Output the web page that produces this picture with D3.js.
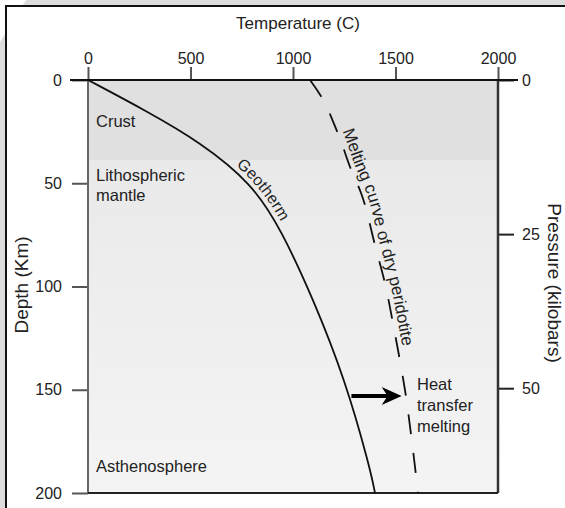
<!DOCTYPE html>
<html>
<head>
<meta charset="utf-8">
<script src="https://cdn.jsdelivr.net/npm/d3@7"></script>
<style>
  body { margin: 0; background: #dcdcdc; overflow: hidden; }
  svg { display: block; font-family: "Liberation Sans", Arial, sans-serif; }
</style>
</head>
<body>
<div id="chart"></div>
<script>
// Tick values
const tempTicks = [0, 500, 1000, 1500, 2000];
const depthTicks = [0, 50, 100, 150, 200];
const pressureTicks = [0, 25, 50];

// Geotherm (depth km -> temperature C)
const geoDepth = [0, 15, 30, 50, 73, 106, 145, 188, 200];
const geoTemp = [0, 285, 546, 800, 945, 1098, 1254, 1376, 1400];

// Melting curve of dry peridotite
const meltDepth = [0, 10, 20, 30, 42, 57, 80, 99, 119, 150, 175, 200];
const meltTemp = [1083, 1150, 1195, 1235, 1278, 1340, 1400, 1450, 1490, 1546, 1580, 1610];

// Layers
const zoneNames = ["Crust", "Lithospheric mantle", "Asthenosphere"];
const zoneTop = [0, 39, 39];

// Heat transfer arrow
const arrowDepth = 153;
const arrowFrom = 1285;
const arrowTo = 1530;

const W = 565, H = 508;

let svg = d3.select("#chart").append("svg")
    .attr("width", W)
    .attr("height", H);

// Outer background and white panel
svg.append("polygon")
    .attr("points", "0,0 26,0 0,42")
    .attr("fill", "#fff");
svg.append("rect")
    .attr("x", 6).attr("y", 6)
    .attr("width", 620).attr("height", 620)
    .attr("fill", "#fff")
    .attr("stroke", "#111")
    .attr("stroke-width", 2);

// Scales
let x = d3.scaleLinear().domain([0, 2000]).range([88, 498]);
let y = d3.scaleLinear().domain([0, 200]).range([80, 493]);
let p = d3.scaleLinear().domain([0, 67]).range([80, 493]);

// Gradient for the mantle part
let defs = svg.append("defs");
let grad = defs.append("linearGradient")
    .attr("id", "mantle")
    .attr("x1", 0).attr("y1", 0).attr("x2", 0).attr("y2", 1);
grad.append("stop").attr("offset", "0%").attr("stop-color", "#e9e9e9");
grad.append("stop").attr("offset", "100%").attr("stop-color", "#f4f4f4");

// Layer fills
svg.append("rect")
    .attr("x", x(0)).attr("y", y(zoneTop[1]))
    .attr("width", x(2000) - x(0)).attr("height", y(200) - y(zoneTop[1]))
    .attr("fill", "url(#mantle)");
svg.append("rect")
    .attr("x", x(0)).attr("y", y(0))
    .attr("width", x(2000) - x(0)).attr("height", y(zoneTop[1]) - y(0))
    .attr("fill", "#e0e0e0");

// Top axis
let topAxis = svg.append("g")
    .attr("transform", "translate(0," + y(0) + ")")
    .call(d3.axisTop(x).tickValues(tempTicks).tickFormat(d3.format("d"))
        .tickSize(13).tickPadding(3));
// Left axis
let leftAxis = svg.append("g")
    .attr("transform", "translate(" + x(0) + ",0)")
    .call(d3.axisLeft(y).tickValues(depthTicks).tickSize(16).tickPadding(10));
// Right axis
let rightAxis = svg.append("g")
    .attr("transform", "translate(" + x(2000) + ",0)")
    .call(d3.axisRight(p).tickValues(pressureTicks).tickSize(16).tickPadding(8));

[topAxis, leftAxis, rightAxis].forEach(function(a) {
    a.select(".domain").remove();
    a.selectAll("line").attr("stroke", "#555").attr("stroke-width", 2);
    a.selectAll("text")
        .attr("font-size", 16)
        .attr("font-family", "Liberation Sans, Arial, sans-serif")
        .attr("fill", "#222");
});
rightAxis.selectAll("line").attr("stroke", "#222");

// Panel borders
svg.append("line")
    .attr("x1", x(0)).attr("x2", x(0)).attr("y1", y(0)).attr("y2", y(200))
    .attr("stroke", "#666").attr("stroke-width", 2);
svg.append("line")
    .attr("x1", x(2000)).attr("x2", x(2000)).attr("y1", y(0)).attr("y2", y(200))
    .attr("stroke", "#333").attr("stroke-width", 2.5);
svg.append("line")
    .attr("x1", x(0)).attr("x2", x(2000)).attr("y1", y(200)).attr("y2", y(200))
    .attr("stroke", "#222").attr("stroke-width", 2);
svg.append("line")
    .attr("x1", 70).attr("x2", 518).attr("y1", y(0)).attr("y2", y(0))
    .attr("stroke", "#111").attr("stroke-width", 2);

// Curves
let geoLine = d3.line().curve(d3.curveBasis);
let meltLine = d3.line().curve(d3.curveCatmullRom.alpha(0.5));
let geoPts = geoDepth.map(function(d, i) { return [x(geoTemp[i]), y(d)]; });
let meltPts = meltDepth.map(function(d, i) { return [x(meltTemp[i]), y(d)]; });

svg.append("path")
    .attr("id", "geotherm")
    .attr("d", geoLine(geoPts))
    .attr("fill", "none")
    .attr("stroke", "#111")
    .attr("stroke-width", 1.8);

svg.append("path")
    .attr("id", "melting")
    .attr("d", meltLine(meltPts))
    .attr("fill", "none")
    .attr("stroke", "#111")
    .attr("stroke-width", 1.8)
    .attr("stroke-dasharray", "20,19");

// Curve labels
svg.append("text")
    .attr("font-size", 16).attr("fill", "#222").attr("dy", -5)
    .append("textPath")
    .attr("href", "#geotherm")
    .attr("startOffset", 170)
    .text("Geotherm");

svg.append("text")
    .attr("font-size", 17).attr("fill", "#222").attr("dy", -5)
    .append("textPath")
    .attr("href", "#melting")
    .attr("startOffset", 60)
    .text("Melting curve of dry peridotite");

// Zone labels
svg.append("text")
    .attr("x", 96).attr("y", y(zoneTop[0]) + 47)
    .attr("font-size", 16.5).attr("fill", "#222")
    .text(zoneNames[0]);
let lith = svg.append("text")
    .attr("x", 96).attr("y", y(zoneTop[1]) + 20)
    .attr("font-size", 16.5).attr("fill", "#222");
lith.append("tspan").attr("x", 96).text(zoneNames[1].split(" ")[0]);
lith.append("tspan").attr("x", 96).attr("dy", 20).text(zoneNames[1].split(" ")[1]);
svg.append("text")
    .attr("x", 96).attr("y", y(200) - 21)
    .attr("font-size", 16.5).attr("fill", "#222")
    .text(zoneNames[2]);

// Heat transfer arrow
let ay = y(arrowDepth);
svg.append("line")
    .attr("x1", x(arrowFrom)).attr("x2", x(arrowTo) - 12)
    .attr("y1", ay).attr("y2", ay)
    .attr("stroke", "#000").attr("stroke-width", 4);
svg.append("path")
    .attr("d", "M" + x(arrowTo) + "," + ay +
        " L" + (x(arrowTo) - 20) + "," + (ay - 9) +
        " L" + (x(arrowTo) - 14) + "," + ay +
        " L" + (x(arrowTo) - 20) + "," + (ay + 9) + " Z")
    .attr("fill", "#000");

let heat = svg.append("text")
    .attr("x", 417).attr("y", 390)
    .attr("font-size", 16.5).attr("fill", "#222");
["Heat", "transfer", "melting"].forEach(function(t, i) {
    heat.append("tspan").attr("x", 417).attr("dy", i === 0 ? 0 : 21).text(t);
});

// Axis titles
svg.append("text")
    .attr("x", 298).attr("y", 29)
    .attr("text-anchor", "middle")
    .attr("font-size", 17).attr("fill", "#222")
    .text("Temperature (C)");

svg.append("text")
    .attr("transform", "translate(28,285) rotate(-90)")
    .attr("text-anchor", "middle")
    .attr("font-size", 19).attr("fill", "#222")
    .text("Depth (Km)");

svg.append("text")
    .attr("transform", "translate(548,283) rotate(90)")
    .attr("text-anchor", "middle")
    .attr("font-size", 19).attr("fill", "#222")
    .text("Pressure (kilobars)");
</script>
</body>
</html>
